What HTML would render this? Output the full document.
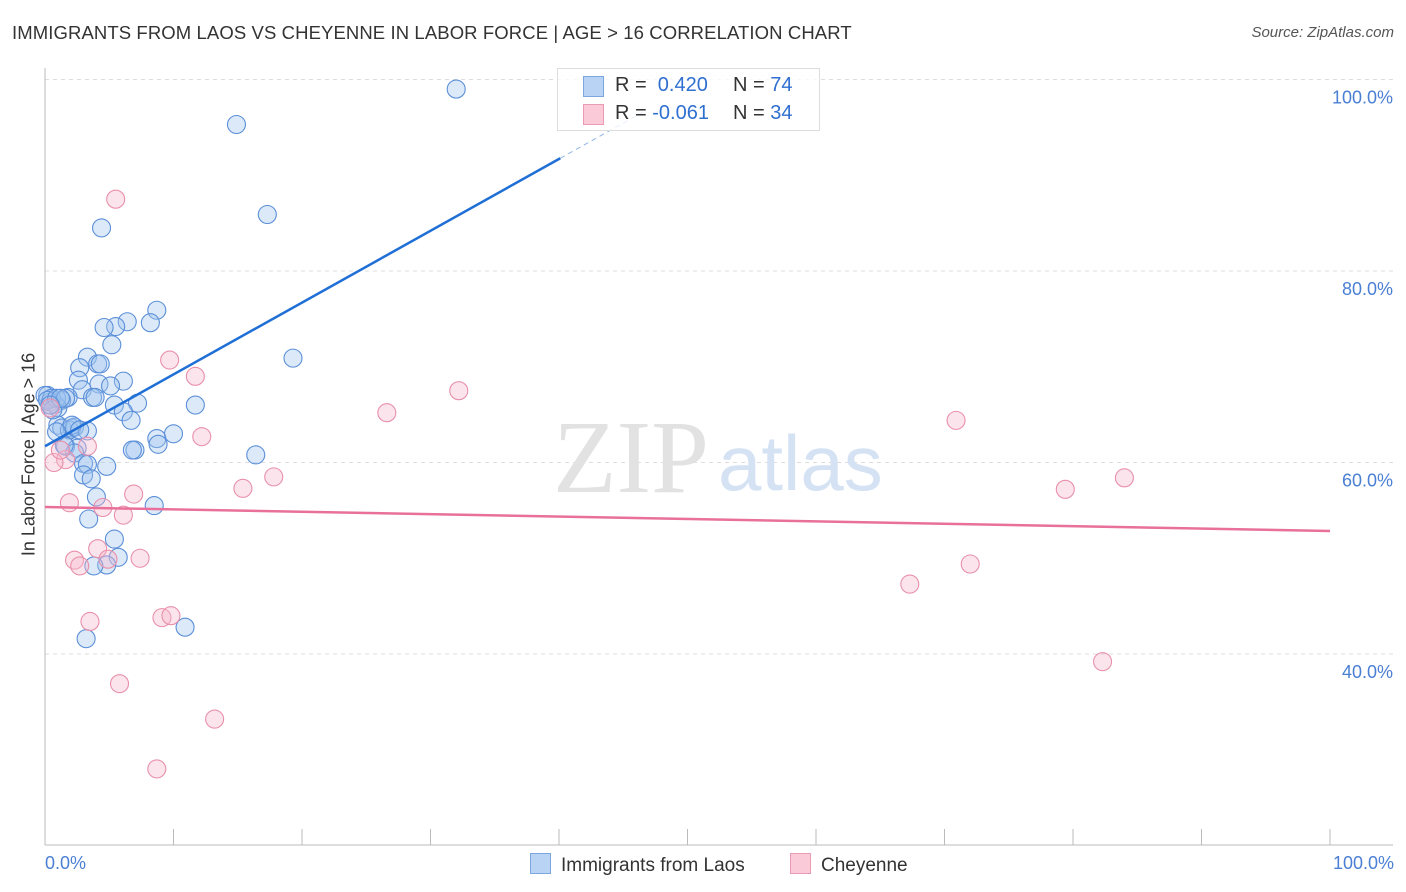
<!DOCTYPE html>
<html><head><meta charset="utf-8"><style>
body{margin:0;background:#fff;font-family:"Liberation Sans",sans-serif;}
#wrap{position:relative;width:1406px;height:892px;overflow:hidden;}
.t{position:absolute;white-space:nowrap;}
</style></head><body>
<div id="wrap">
<div class="t" style="left:12px;top:22px;font-size:18.5px;letter-spacing:0.1px;color:#333;">IMMIGRANTS FROM LAOS VS CHEYENNE IN LABOR FORCE | AGE &gt; 16 CORRELATION CHART</div>
<div class="t" style="right:12px;top:24px;font-size:15px;color:#555;font-style:italic;">Source: ZipAtlas.com</div>
<svg id="svg" width="1406" height="892" style="position:absolute;left:0;top:0"></svg>
</div>
<script>
const blueX=[32.0,14.9,17.3,4.4,8.7,8.2,6.4,5.5,4.6,5.2,3.3,4.1,4.3,2.7,19.3,6.1,2.6,4.2,5.1,2.9,3.7,3.9,1.8,1.3,0.2,0.4,0.8,1.0,7.2,5.4,11.7,6.1,6.7,1.0,1.3,2.1,1.9,2.3,3.3,8.7,10.0,8.8,7.0,6.8,1.6,2.5,2.3,16.4,3.0,3.3,4.8,3.0,3.6,4.0,8.5,3.4,5.4,5.7,4.8,3.8,10.9,3.2,0,0.5,0.2,0.9,1.6,0.6,1.2,0.4,2.1,1.5,2.7,0.9];
const blueY=[99.0,95.3,85.9,84.5,75.9,74.6,74.7,74.2,74.1,72.3,71.0,70.3,70.3,69.9,70.9,68.5,68.6,68.2,68.0,67.6,66.8,66.8,66.8,66.5,67.0,66.3,66.1,65.7,66.2,66.0,66.0,65.3,64.4,63.9,63.6,63.6,63.4,63.7,63.3,62.5,63.0,61.9,61.3,61.3,61.7,61.5,61.0,60.8,59.9,59.8,59.6,58.7,58.3,56.4,55.5,54.1,52.0,50.1,49.3,49.2,42.8,41.6,67.0,66.7,66.5,66.7,66.7,65.5,66.7,66.0,63.9,61.8,63.4,63.2];
const pinkX=[5.5,9.7,11.7,26.6,32.2,12.2,3.3,70.9,84.0,79.4,17.8,15.4,1.6,0.7,6.9,1.9,4.5,6.1,4.1,2.3,2.7,4.9,7.4,67.3,72.0,3.5,9.1,9.8,82.3,5.8,13.2,8.7,0.4,1.2];
const pinkY=[87.5,70.7,69.0,65.2,67.5,62.7,61.7,64.4,58.4,57.2,58.5,57.3,60.3,60.0,56.7,55.8,55.3,54.5,51.0,49.8,49.2,49.9,50.0,47.3,49.4,43.4,43.8,44.0,39.2,36.9,33.2,28.0,65.7,61.3];
const blueTrend=[61.7,0.75];   // intercept, slope
const pinkTrend=[55.35,-0.025];
const yTicks=[100,80,60,40];
const yTickLabels=["100.0%","80.0%","60.0%","40.0%"];
const xTicks=[0,10,20,30,40,50,60,70,80,90,100];

const X=v=>45+v*12.85;
const Y=v=>79.5+(100-v)*9.575;
const svg=document.getElementById('svg');
const NS='http://www.w3.org/2000/svg';
function mk(tag,attrs){const e=document.createElementNS(NS,tag);for(const k in attrs)e.setAttribute(k,attrs[k]);svg.appendChild(e);return e;}

yTicks.forEach((t,i)=>{
  const g=mk('line',{x1:45,x2:1393,y1:Y(t),y2:Y(t),stroke:'#ddd','stroke-dasharray':'4,4'});
  
  
  const tx=mk('text',{x:1393,y:Y(t)+24,'text-anchor':'end','font-size':18,fill:'#4a7fd4','font-family':'Liberation Sans, sans-serif'});
  tx.textContent=yTickLabels[i];
  
  
});
let a=mk('line',{x1:45,x2:45,y1:68,y2:845,stroke:'#bbb'});

a=mk('line',{x1:45,x2:1393,y1:845,y2:845,stroke:'#bbb'});

xTicks.forEach(t=>{const l=mk('line',{x1:X(t),x2:X(t),y1:829,y2:845,stroke:'#bbb'});

});
let w=mk('text',{x:553,y:492,'font-size':104,fill:'#e2e2e2','font-family':'Liberation Serif, serif'});w.textContent='ZIP';

w=mk('text',{x:718,y:490,'font-size':78,fill:'#d4e2f4','font-family':'Liberation Sans, sans-serif'});w.textContent='atlas';


blueX.forEach((x,i)=>{const c=mk('circle',{cx:X(x),cy:Y(blueY[i]),r:9,fill:'rgba(160,196,240,0.38)',stroke:'#5b8fd8','stroke-width':1.1});

});
pinkX.forEach((x,i)=>{const c=mk('circle',{cx:X(x),cy:Y(pinkY[i]),r:9,fill:'rgba(247,185,205,0.38)',stroke:'#e890aa','stroke-width':1.1});

});

const bt=x=>blueTrend[0]+blueTrend[1]*x;
let l=mk('line',{x1:X(0),y1:Y(bt(0)),x2:X(40.1),y2:Y(bt(40.1)),stroke:'#1f6fd6','stroke-width':2.5});

l=mk('line',{x1:X(40.1),y1:Y(bt(40.1)),x2:X(46.5),y2:Y(bt(46.5)),stroke:'#8fb4e8','stroke-width':1,'stroke-dasharray':'5,4'});

const pt=x=>pinkTrend[0]+pinkTrend[1]*x;
l=mk('line',{x1:X(0),y1:Y(pt(0)),x2:X(100),y2:Y(pt(100)),stroke:'#e8709a','stroke-width':2.5});

</script>
<div class="t" style="left:557px;top:68px;width:261px;height:61px;border:1px solid #ddd;background:rgba(255,255,255,0.8);font-size:20px;">
 <div style="position:absolute;left:25px;top:7px;width:19px;height:19px;background:#b9d3f5;border:1px solid #7ba6e0;"></div>
 <div class="t" style="left:57px;top:5px;color:#333;">R = <span style="color:#2f6fd0">&nbsp;0.420</span></div>
 <div class="t" style="left:175px;top:5px;color:#333;">N = <span style="color:#2f6fd0">74</span></div>
 <div style="position:absolute;left:25px;top:35px;width:19px;height:19px;background:#fbcad8;border:1px solid #eb9ab4;"></div>
 <div class="t" style="left:57px;top:33px;color:#333;">R = <span style="color:#2f6fd0">-0.061</span></div>
 <div class="t" style="left:175px;top:33px;color:#333;">N = <span style="color:#2f6fd0">34</span></div>
</div>
<div class="t" style="left:-76px;top:444px;width:210px;text-align:center;transform:rotate(-90deg);font-size:18px;color:#333;">In Labor Force | Age &gt; 16</div>
<div class="t" style="left:45px;top:853px;font-size:18px;color:#4a7fd4;">0.0%</div>
<div class="t" style="right:12px;top:853px;font-size:18px;color:#4a7fd4;">100.0%</div>
<div class="t" style="left:530px;top:853px;font-size:19px;color:#333;"><span style="display:inline-block;width:19px;height:19px;background:#b9d3f5;border:1px solid #7ba6e0;vertical-align:-3px;margin-right:10px;"></span>Immigrants from Laos</div>
<div class="t" style="left:790px;top:853px;font-size:19px;color:#333;"><span style="display:inline-block;width:19px;height:19px;background:#fbcad8;border:1px solid #eb9ab4;vertical-align:-3px;margin-right:10px;"></span>Cheyenne</div>
</body></html>
